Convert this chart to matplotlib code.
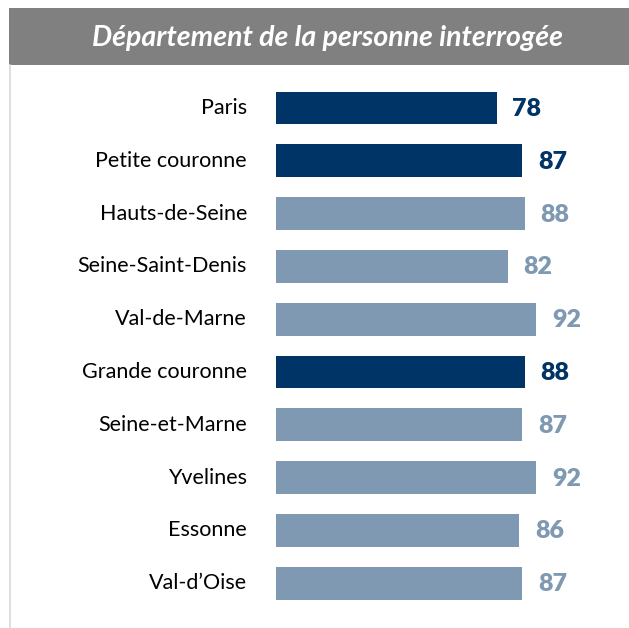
import matplotlib
matplotlib.use("Agg")
import matplotlib.pyplot as plt
from matplotlib.patches import Rectangle
from matplotlib.lines import Line2D

categories = ["Paris", "Petite couronne", "Hauts-de-Seine", "Seine-Saint-Denis",
              "Val-de-Marne", "Grande couronne", "Seine-et-Marne", "Yvelines",
              "Essonne", "Val-d\u2019Oise"]
values = [78, 87, 88, 82, 92, 88, 87, 92, 86, 87]
highlight = [True, True, False, False, False, True, False, False, False, False]
title = "Département de la personne interrogée"

DARK = "#003366"
LIGHT = "#7F99B3"
FONT = ["Lato", "DejaVu Sans"]

W, H = 629, 628
fig = plt.figure(figsize=(W / 100, H / 100), dpi=100)
fig.patch.set_facecolor("white")

# title banner
fig.patches.append(Rectangle((9 / W, 1 - 65 / H), 1 - 9 / W, 57 / H,
                             transform=fig.transFigure, facecolor="#808080",
                             edgecolor="none"))
fig.text((88 + 568) / 2 / W, 1 - 38 / H, title, color="white", fontsize=20.5,
         fontstyle="italic", fontweight="bold", family=FONT,
         ha="center", va="center")
# left border line
fig.lines.append(Line2D([10 / W, 10 / W], [0, 1 - 65 / H],
                        transform=fig.transFigure, color="#D9D9D9", lw=1.2))

# axes: x=0 at 276 px, scale 2.83 px per unit; rows spaced 52.8 px
left_px, right_px = 276, 629
top_px, bottom_px = 81.6, 609.6
ax = fig.add_axes([left_px / W, 1 - bottom_px / H,
                   (right_px - left_px) / W, (bottom_px - top_px) / H])
ax.set_xlim(0, (right_px - left_px) / 2.83)
ax.set_ylim(len(categories) - 0.5, -0.5)
ax.axis("off")

ypos = list(range(len(categories)))
colors = [DARK if h else LIGHT for h in highlight]
ax.barh(ypos, values, height=0.62, color=colors)
for y, v, c, name in zip(ypos, values, colors, categories):
    ax.text(v + 5.5, y + 0.02, f"{v}", color=c, fontsize=18, fontweight="heavy",
            family=FONT, ha="left", va="center")
    ax.annotate(name, xy=(0, y), xytext=(-29, 0), textcoords="offset pixels",
                ha="right", va="center", fontsize=15.5, family=FONT,
                color="black")

fig.savefig("out.png", dpi=100)
